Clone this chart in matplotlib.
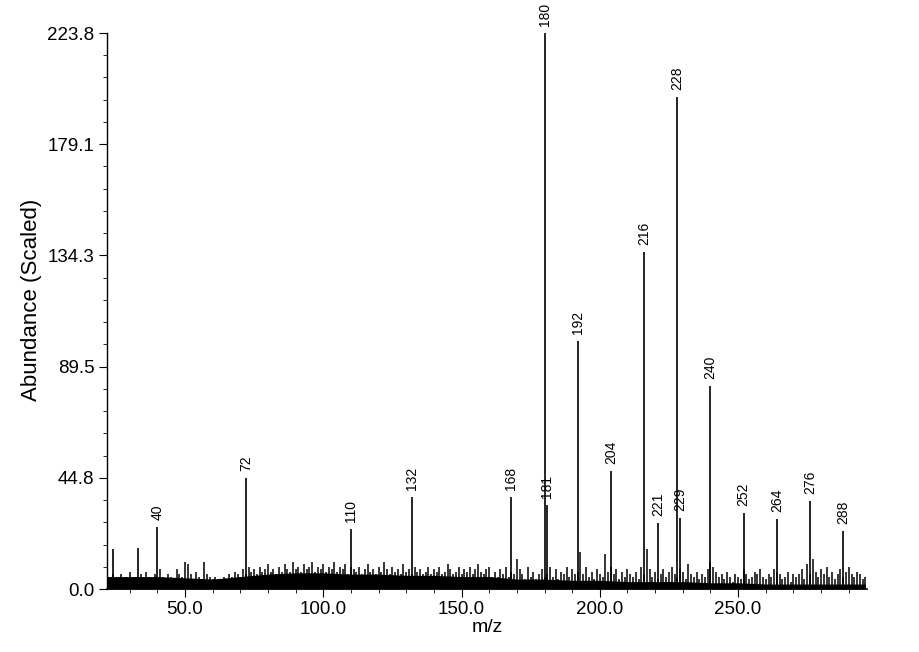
# Mass spectrum plot (stick spectrum with noisy baseline)
import numpy as np
import matplotlib
matplotlib.use('Agg')
import matplotlib.pyplot as plt
from matplotlib.ticker import MultipleLocator, FixedLocator

plt.rcParams['font.family'] = ['Liberation Sans', 'DejaVu Sans']

## Labelled peaks
peak_mz = [40, 72, 110, 132, 168, 180, 181, 192, 204, 216, 221, 228, 229, 240, 252, 264, 276, 288]
peak_h = [25, 44.8, 24.2, 37, 37, 223.8, 34, 100, 47.6, 135.5, 26.6, 198, 28.6, 81.9, 30.6, 28.2, 35.5, 23.4]

# Unlabelled small peaks at the low mass end
extra_mz = [24, 33]
extra_h = [16, 16.5]

## Baseline noise, one value per m/z from 22 to 296
noise_start = 22
noise_h = [
    5, 4, 6, 4, 4, 6, 3, 5, 7, 4,
    5, 4, 6, 3, 7, 5, 4, 6, 4, 8,
    5, 4, 6, 5, 3, 8, 6, 5, 11, 10,
    6, 4, 7, 5, 4, 11, 6, 5, 4, 5,
    4, 3, 5, 4, 6, 5, 7, 6, 5, 8,
    6, 9, 7, 8, 6, 9, 7, 8, 10, 7,
    8, 6, 9, 7, 10, 8, 7, 11, 8, 9,
    7, 10, 8, 9, 11, 7, 9, 8, 10, 7,
    9, 8, 11, 7, 9, 8, 10, 6, 9, 8,
    7, 9, 6, 8, 10, 7, 8, 6, 9, 7,
    11, 8, 6, 9, 7, 8, 6, 10, 7, 8,
    6, 9, 7, 8, 6, 7, 9, 6, 8, 7,
    9, 6, 7, 10, 8, 6, 7, 9, 6, 8,
    7, 9, 6, 8, 10, 7, 6, 8, 9, 5,
    7, 5, 8, 6, 9, 5, 7, 6, 12, 8,
    6, 4, 9, 5, 7, 4, 6, 8, 5, 6,
    9, 5, 8, 4, 7, 6, 9, 5, 8, 6,
    7, 15, 6, 9, 5, 7, 4, 8, 6, 5,
    14, 7, 9, 6, 8, 4, 7, 5, 8, 6,
    5, 7, 4, 9, 6, 16, 8, 5, 7, 4,
    6, 8, 5, 7, 9, 6, 5, 8, 7, 4,
    10, 6, 5, 7, 4, 6, 5, 8, 11, 9,
    7, 5, 6, 4, 7, 5, 3, 6, 5, 4,
    8, 6, 4, 5, 7, 6, 8, 5, 4, 6,
    5, 8, 7, 6, 4, 5, 7, 3, 6, 5,
    6, 8, 4, 10, 6, 12, 7, 5, 8, 6,
    9, 5, 7, 4, 6, 8, 5, 7, 9, 6,
    5, 7, 6, 4, 5,
]

# Solid dark band of the noise floor
floor_mz = [22, 30, 40, 50, 60, 70, 80, 90, 100, 110, 120, 130, 140, 150, 160,
            170, 180, 190, 200, 210, 220, 230, 240, 250, 260, 270, 280, 290, 296]
floor_h = [5, 5, 5, 4.5, 4, 5, 6, 6.5, 6.5, 6, 6, 5.5, 5.5, 5, 5,
           4, 4, 3.5, 3.5, 3, 3, 3, 2.5, 2.5, 2, 2, 2, 2, 2]

y_ticks = [0.0, 44.8, 89.5, 134.3, 179.1, 223.8]
x_ticks = [50.0, 100.0, 150.0, 200.0, 250.0]

fig = plt.figure(figsize=(9.19, 6.52), dpi=100)
ax = fig.add_axes([107/919, 63/652, 760/919, 556/652])

noise_mz = np.arange(noise_start, noise_start + len(noise_h))
ax.fill_between(floor_mz, 0, floor_h, color='black', lw=0)
ax.vlines(noise_mz, 0, noise_h, color='black', lw=1.1)

ax.vlines(extra_mz, 0, extra_h, color='black', lw=1.2)
ax.vlines(peak_mz, 0, peak_h, color='black', lw=1.2)
for mz, h in zip(peak_mz, peak_h):
    ax.annotate(str(mz), (mz, h), xytext=(0, 5), textcoords='offset points',
                rotation=90, ha='center', va='bottom', fontsize=10)

ax.set_xlim(21.8, 296.6)
ax.set_ylim(0, 223.8)
ax.spines['top'].set_visible(False)
ax.spines['right'].set_visible(False)
ax.spines['left'].set_linewidth(1.0)
ax.spines['bottom'].set_linewidth(1.2)

ax.set_yticks(y_ticks)
ax.set_yticklabels(['%.1f' % v for v in y_ticks], fontsize=13.5)
ax.yaxis.set_minor_locator(FixedLocator(np.linspace(0, 223.8, 26)))
ax.set_xticks(x_ticks)
ax.set_xticklabels(['%.1f' % v for v in x_ticks], fontsize=13.5)
ax.xaxis.set_minor_locator(MultipleLocator(10))
ax.tick_params(which='major', length=6, width=0.8, pad=3)
ax.tick_params(which='minor', length=3, width=0.6)

ax.set_xlabel('m/z', fontsize=14, labelpad=0)
ax.set_ylabel('Abundance (Scaled)', fontsize=16)
ax.yaxis.set_label_coords(-0.085, 0.52)

fig.savefig('out.png', dpi=100)
